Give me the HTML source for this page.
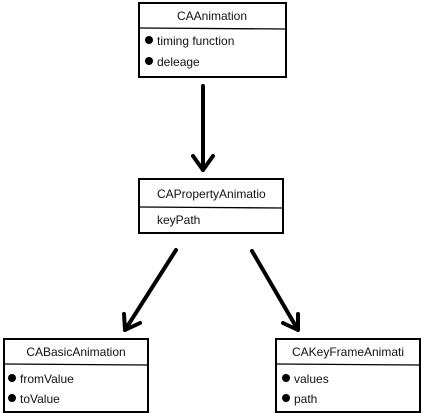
<!DOCTYPE html>
<html><head><style>
body{margin:0;width:425px;height:415px;background:#fff;overflow:hidden}
svg text{font-family:"Liberation Sans",sans-serif;font-size:12px;fill:#111}
</style></head><body>
<svg width="425" height="415" viewBox="0 0 425 415" xmlns="http://www.w3.org/2000/svg">
<g fill="#fff" stroke="#000" stroke-width="2">
<rect x="139" y="3" width="147" height="74"/>
<rect x="139" y="179" width="144" height="54"/>
<rect x="4" y="339" width="144" height="73"/>
<rect x="276" y="339" width="144" height="73"/>
</g>
<g stroke="#000" stroke-width="1.3">
<line x1="140" y1="28" x2="285" y2="29"/>
<line x1="140" y1="207" x2="282" y2="208"/>
<line x1="5" y1="364" x2="147" y2="365"/>
<line x1="277" y1="364" x2="419" y2="365"/>
</g>
<g stroke="#000" stroke-width="4" fill="none" stroke-linecap="round" stroke-linejoin="round">
<line x1="203" y1="86" x2="203" y2="170"/>
<polyline points="193,156 203,170 213,156"/>
<line x1="176" y1="250" x2="125" y2="330"/>
<polyline points="124,314 125,330 140,323"/>
<line x1="252" y1="251" x2="298" y2="330"/>
<polyline points="283,323 298,330 298,314"/>
</g>
<text x="212" y="20" text-anchor="middle">CAAnimation</text>
<circle cx="149" cy="40" r="4"/><text x="157" y="45">timing function</text>
<circle cx="149" cy="61" r="4"/><text x="157" y="66">deleage</text>
<text x="157" y="198">CAPropertyAnimatio</text>
<text x="157" y="224">keyPath</text>
<text x="76" y="356" text-anchor="middle">CABasicAnimation</text>
<circle cx="12" cy="378" r="4"/><text x="20" y="383">fromValue</text>
<circle cx="12" cy="398" r="4"/><text x="20" y="403">toValue</text>
<text x="348" y="356" text-anchor="middle">CAKeyFrameAnimati</text>
<circle cx="286" cy="378" r="4"/><text x="294" y="383">values</text>
<circle cx="286" cy="398" r="4"/><text x="294" y="403">path</text>
</svg>
</body></html>
